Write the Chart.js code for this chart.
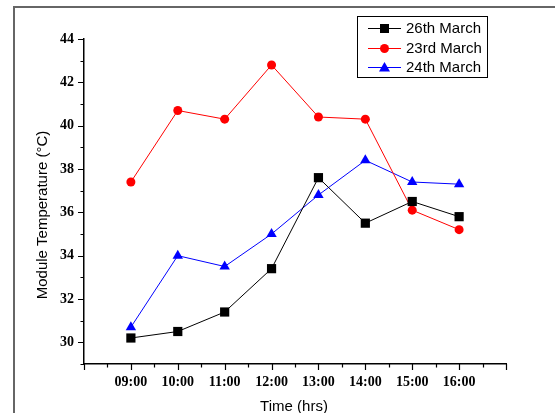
<!DOCTYPE html>
<html>
<head>
<meta charset="utf-8">
<script src="https://cdn.jsdelivr.net/npm/chart.js"></script>
<style>
  body { margin: 0; background: #fff; }
  canvas { display: block; }
</style>
</head>
<body>
<canvas id="chart1" width="555" height="413"></canvas>
<script>
//----------------- data -------------------------
const times = ["09:00", "10:00", "11:00", "12:00", "13:00", "14:00", "15:00", "16:00"];
const march26 = [30.2, 30.5, 31.4, 33.4, 37.6, 35.5, 36.5, 35.8];
const march23 = [37.4, 40.7, 40.3, 42.8, 40.4, 40.3, 36.1, 35.2];
const march24 = [30.7, 34.0, 33.5, 35.0, 36.8, 38.4, 37.4, 37.3];

const hours = times.map(t => parseInt(t, 10));
const toPoints = arr => arr.map((v, i) => ({ x: hours[i], y: v }));

const tickFont = { family: "'Liberation Serif', 'Times New Roman', serif", size: 14, weight: "bold" };
const textFont = "15px 'Liberation Sans', Arial, sans-serif";

//----------------- frame, ticks, titles, legend ----------------
const decorations = {
    id: "decorations",
    afterDraw(chart) {
        const ctx = chart.ctx;
        const xs = chart.scales.x;
        const ys = chart.scales.y;
        const area = chart.chartArea;
        ctx.save();

        // outer frame (right/bottom are cut off in the original)
        ctx.strokeStyle = "#666";
        ctx.lineWidth = 2;
        ctx.beginPath();
        ctx.moveTo(14, 413);
        ctx.lineTo(14, 7);
        ctx.lineTo(560, 7);
        ctx.stroke();

        // tick marks, major and minor, pointing outward
        ctx.strokeStyle = "#000";
        ctx.lineWidth = 1.2;
        ctx.beginPath();
        for (let v = xs.min; v <= xs.max + 0.001; v += 0.5) {
            const px = Math.round(xs.getPixelForValue(v)) + 0.5;
            const len = Number.isInteger(v) ? 6 : 3.5;
            ctx.moveTo(px, area.bottom);
            ctx.lineTo(px, area.bottom + len);
        }
        for (let v = ys.min; v <= ys.max + 0.001; v += 1) {
            const py = Math.round(ys.getPixelForValue(v)) + 0.5;
            const len = v % 2 === 0 ? 6 : 3.5;
            ctx.moveTo(area.left, py);
            ctx.lineTo(area.left - len, py);
        }
        ctx.stroke();

        // axis titles
        ctx.fillStyle = "#000";
        ctx.font = textFont;
        ctx.textAlign = "center";
        ctx.textBaseline = "alphabetic";
        ctx.fillText("Time (hrs)", 294, 411);
        ctx.save();
        ctx.translate(47, 215);
        ctx.rotate(-Math.PI / 2);
        ctx.fillText("Module Temperature (\u00B0C)", 0, 0);
        ctx.restore();

        // legend
        ctx.strokeStyle = "#000";
        ctx.lineWidth = 1;
        ctx.strokeRect(357.5, 16.5, 130, 61);
        const rows = [28, 48, 67];
        chart.data.datasets.forEach((ds, i) => {
            const y = rows[i];
            ctx.strokeStyle = ds.borderColor;
            ctx.lineWidth = 1;
            ctx.beginPath();
            ctx.moveTo(368, y + 0.5);
            ctx.lineTo(401, y + 0.5);
            ctx.stroke();
            ctx.fillStyle = ds.pointBackgroundColor;
            const cx = 384.5;
            ctx.beginPath();
            if (ds.pointStyle === "rect") {
                ctx.rect(cx - 4.5, y - 4, 9, 9);
            } else if (ds.pointStyle === "circle") {
                ctx.arc(cx, y + 0.5, 4.5, 0, Math.PI * 2);
            } else {
                ctx.moveTo(cx, y - 5);
                ctx.lineTo(cx + 5.5, y + 4.5);
                ctx.lineTo(cx - 5.5, y + 4.5);
                ctx.closePath();
            }
            ctx.fill();
            ctx.fillStyle = "#000";
            ctx.font = textFont;
            ctx.textAlign = "left";
            ctx.textBaseline = "middle";
            ctx.fillText(ds.label, 406, y + 1);
        });
        ctx.restore();
    }
};

// --------Create chart----------
const data = {
    datasets: [
        {
            label: "26th March",
            data: toPoints(march26),
            borderColor: "#000000",
            pointBackgroundColor: "#000000",
            pointBorderColor: "#000000",
            pointStyle: "rect",
            pointRadius: 6.5,
        },
        {
            label: "23rd March",
            data: toPoints(march23),
            borderColor: "#ff0000",
            pointBackgroundColor: "#ff0000",
            pointBorderColor: "#ff0000",
            pointStyle: "circle",
            pointRadius: 4.5,
        },
        {
            label: "24th March",
            data: toPoints(march24),
            borderColor: "#0000ff",
            pointBackgroundColor: "#0000ff",
            pointBorderColor: "#0000ff",
            pointStyle: "triangle",
            pointRadius: 6,
        },
    ]
};

const config = {
    type: "line",
    data: data,
    options: {
        responsive: false,
        animation: false,
        devicePixelRatio: 1,
        layout: { padding: { top: 39, right: 49, left: 0, bottom: 0 } },
        elements: {
            line: { borderWidth: 1, tension: 0 },
            point: { borderWidth: 0, hoverRadius: 6 },
        },
        plugins: {
            legend: { display: false },
            tooltip: { enabled: false },
        },
        scales: {
            x: {
                type: "linear",
                min: 8,
                max: 17,
                afterFit: s => { s.height = 49; },
                grid: { display: false, drawTicks: false },
                border: { display: true, color: "#000", width: 1.5 },
                ticks: {
                    stepSize: 1,
                    autoSkip: false,
                    maxRotation: 0,
                    padding: 10,
                    color: "#000",
                    font: tickFont,
                    callback: v => (v >= 9 && v <= 16) ? String(v).padStart(2, "0") + ":00" : "",
                },
            },
            y: {
                min: 29,
                max: 44,
                afterFit: s => { s.width = 84; },
                grid: { display: false, drawTicks: false },
                border: { display: true, color: "#000", width: 1.5 },
                ticks: {
                    stepSize: 1,
                    autoSkip: false,
                    padding: 10,
                    color: "#000",
                    font: tickFont,
                    callback: v => v % 2 === 0 ? String(v) : "",
                },
            },
        },
    },
    plugins: [decorations],
};

const myChart = new Chart(document.getElementById("chart1").getContext("2d"), config);
</script>
</body>
</html>
